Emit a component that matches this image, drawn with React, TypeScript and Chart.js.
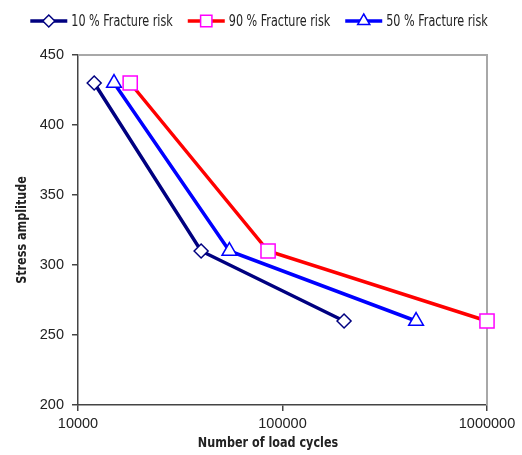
import React, { useEffect, useRef } from "react";
import { Chart, registerables } from "chart.js";
import { drawPoint } from "chart.js/helpers";

Chart.register(...registerables);

const seriesNames = ["10 % Fracture risk", "90 % Fracture risk", "50 % Fracture risk"];
const cycles10 = [12000, 40000, 200000];
const stress10 = [430, 310, 260];
const cycles90 = [18000, 85000, 1000000];
const stress90 = [430, 310, 260];
const cycles50 = [15000, 55000, 450000];
const stress50 = [430, 310, 260];
const xTicks = [10000, 100000, 1000000];
const yTicks = [200, 250, 300, 350, 400, 450];
const xTitle = "Number of load cycles";
const yTitle = "Stress amplitude";

const NARROW = '"Liberation Sans Narrow", "DejaVu Sans Condensed", "Arial Narrow", sans-serif';
const SANS = '"Liberation Sans", Arial, sans-serif';

const toPoints = (xs: number[], ys: number[]) => xs.map((x, i) => ({ x, y: ys[i] }));

function narrowText(ctx: CanvasRenderingContext2D, text: string, x: number, y: number, sx: number) {
  ctx.save();
  ctx.translate(x, y);
  ctx.scale(sx, 1);
  ctx.fillText(text, 0, 0);
  ctx.restore();
}

const decorPlugin = {
  id: "decor",
  beforeDatasetsDraw(chart: any) {
    const { ctx, chartArea } = chart;
    ctx.save();
    ctx.strokeStyle = "#a8a8a8";
    ctx.lineWidth = 2;
    ctx.beginPath();
    ctx.moveTo(chartArea.left, chartArea.top);
    ctx.lineTo(chartArea.right, chartArea.top);
    ctx.lineTo(chartArea.right, chartArea.bottom);
    ctx.stroke();
    ctx.restore();
  },
  afterDraw(chart: any) {
    const { ctx, chartArea } = chart;
    ctx.save();
    // axis titles
    ctx.fillStyle = "#222";
    ctx.font = `bold 14px ${NARROW}`;
    ctx.textAlign = "center";
    ctx.textBaseline = "middle";
    narrowText(ctx, xTitle, 268, 443, 0.89);
    ctx.save();
    ctx.translate(22, (chartArea.top + chartArea.bottom) / 2);
    ctx.rotate(-Math.PI / 2);
    narrowText(ctx, yTitle, 0, 0, 0.89);
    ctx.restore();

    // legend
    const sx = 0.83;
    ctx.font = `15px ${NARROW}`;
    ctx.textAlign = "left";
    const lineLen = 37;
    const gapText = 4;
    const gapItem = 15;
    const ds = chart.data.datasets;
    const widths = ds.map((d: any) => lineLen + gapText + ctx.measureText(d.label).width * sx);
    const total = widths.reduce((a: number, b: number) => a + b, 0) + gapItem * (ds.length - 1);
    let x = 259 - total / 2;
    const y = 21;
    ds.forEach((d: any, i: number) => {
      ctx.strokeStyle = d.borderColor;
      ctx.lineWidth = d.borderWidth;
      ctx.beginPath();
      ctx.moveTo(x, y);
      ctx.lineTo(x + lineLen, y);
      ctx.stroke();
      ctx.fillStyle = d.pointBackgroundColor;
      ctx.strokeStyle = d.pointBorderColor;
      ctx.lineWidth = d.pointBorderWidth;
      drawPoint(ctx, { pointStyle: d.pointStyle, radius: d.legendRadius, borderWidth: d.pointBorderWidth, rotation: 0 } as any, x + lineLen / 2, y);
      ctx.fillStyle = "#222";
      narrowText(ctx, d.label, x + lineLen + gapText, y + 1, sx);
      x += widths[i] + gapItem;
    });
    ctx.restore();
  },
};

export default function App() {
  const ref = useRef<HTMLCanvasElement>(null);
  useEffect(() => {
    if (!ref.current) return;
    const chart = new Chart(ref.current, {
      type: "line",
      data: {
        datasets: [
          {
            label: seriesNames[0],
            data: toPoints(cycles10, stress10),
            borderColor: "#000080",
            borderWidth: 3.5,
            pointStyle: "rectRot",
            pointRadius: 7,
            pointBorderColor: "#000080",
            pointBackgroundColor: "#ffffff",
            pointBorderWidth: 1.5,
            legendRadius: 6,
            clip: false,
          } as any,
          {
            label: seriesNames[1],
            data: toPoints(cycles90, stress90),
            borderColor: "#ff0000",
            borderWidth: 3.5,
            pointStyle: "rect",
            pointRadius: 10,
            pointBorderColor: "#ff00ff",
            pointBackgroundColor: "#ffffff",
            pointBorderWidth: 1.5,
            legendRadius: 8,
            clip: false,
          } as any,
          {
            label: seriesNames[2],
            data: toPoints(cycles50, stress50),
            borderColor: "#0000ff",
            borderWidth: 3.5,
            pointStyle: "triangle",
            pointRadius: 8.5,
            pointBorderColor: "#0000ff",
            pointBackgroundColor: "#ffffff",
            pointBorderWidth: 1.5,
            legendRadius: 7,
            clip: false,
          } as any,
        ],
      },
      options: {
        animation: false,
        responsive: false,
        events: [],
        layout: { padding: { top: 55, right: 35, bottom: 0, left: 0 } },
        plugins: { legend: { display: false }, tooltip: { enabled: false } },
        elements: { line: { tension: 0 } },
        scales: {
          x: {
            type: "logarithmic",
            min: xTicks[0],
            max: xTicks[xTicks.length - 1],
            afterBuildTicks: (s: any) => {
              s.ticks = xTicks.map((v) => ({ value: v }));
            },
            afterFit: (s: any) => {
              s.height = 50;
            },
            ticks: {
              autoSkip: false,
              maxRotation: 0,
              padding: 4,
              color: "#222",
              font: { family: SANS, size: 14.5 },
              callback: (v: any) => String(v),
            },
            grid: { drawOnChartArea: false, drawTicks: true, tickLength: 6, color: "#444", lineWidth: 1.5 },
            border: { display: true, color: "#444", width: 1.5 },
          },
          y: {
            type: "linear",
            min: yTicks[0],
            max: yTicks[yTicks.length - 1],
            afterBuildTicks: (s: any) => {
              s.ticks = yTicks.map((v) => ({ value: v }));
            },
            afterFit: (s: any) => {
              s.width = 78;
            },
            ticks: {
              padding: 8,
              color: "#222",
              font: { family: SANS, size: 14.5 },
              callback: (v: any) => String(v),
            },
            grid: { drawOnChartArea: false, drawTicks: true, tickLength: 6, color: "#444", lineWidth: 1.5 },
            border: { display: true, color: "#444", width: 1.5 },
          },
        },
      } as any,
      plugins: [decorPlugin],
    });
    return () => chart.destroy();
  }, []);
  return (
    <div style={{ position: "fixed", left: 0, top: 0, width: 522, height: 455, background: "#fff" }}>
      <canvas ref={ref} width={522} height={455} style={{ width: 522, height: 455 }} />
    </div>
  );
}
